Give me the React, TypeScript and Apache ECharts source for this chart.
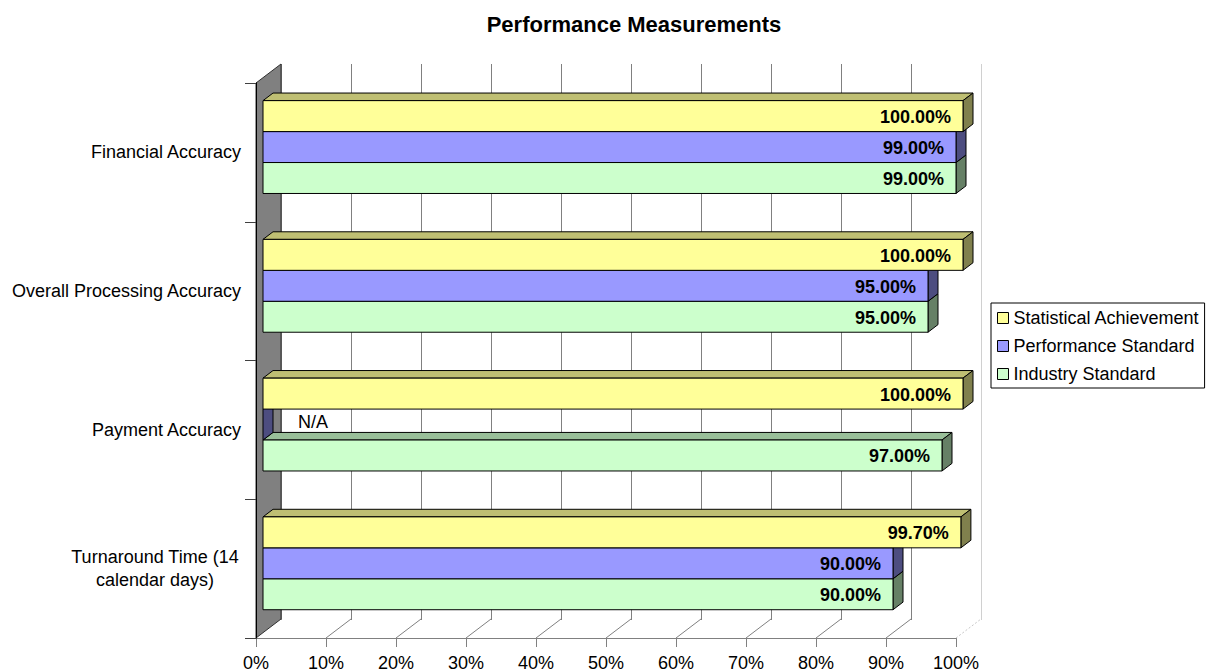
import React, { useEffect, useRef } from 'react';
import * as echarts from 'echarts';

// ---------- data ----------
const categories = [
  'Financial Accuracy',
  'Overall Processing Accuracy',
  'Payment Accuracy',
  'Turnaround Time (14\ncalendar days)',
];
const seriesNames = ['Statistical Achievement', 'Performance Standard', 'Industry Standard'];
const statisticalAchievement: (number | null)[] = [100, 100, 100, 99.7];
const performanceStandard: (number | null)[] = [99, 95, null, 90];
const industryStandard: (number | null)[] = [99, 95, 97, 90];
const naLabel = 'N/A';
const titleText = 'Performance Measurements';

// ---------- style / geometry ----------
const FONT = '"Liberation Sans", Arial, Helvetica, sans-serif';
const FRONT = { left: 256, top: 83, width: 700, height: 556 };
const DEPTH_X = 25; // full depth of the 3D box
const DEPTH_Y = -19;
const BAR_FRONT_FRAC = 0.28; // bar front face depth position
const BAR_DEPTH_FRAC = 0.4; // bar thickness in depth
const BAR_H_FRAC = 31 / 139; // bar height as share of band

const palette = {
  yellow: { front: '#FFFF99', top: '#BFBF73', side: '#80804D' },
  blue: { front: '#9999FF', top: '#7373BF', side: '#4D4D80' },
  green: { front: '#CCFFCC', top: '#99BF99', side: '#668066' },
};

function toData(arr: (number | null)[]) {
  return arr.map((v, i) => [v == null ? 0 : v, i, v == null ? 1 : 0]);
}

function makeBarRender(slot: number, col: { front: string; top: string; side: string }) {
  return (params: any, api: any) => {
    const val = api.value(0);
    const cat = api.value(1);
    const isNA = api.value(2) === 1;
    const base = api.coord([0, cat]);
    const end = api.coord([val, cat]);
    const band = api.size([0, 1])[1];
    const h = band * BAR_H_FRAC;
    const fx = DEPTH_X * BAR_FRONT_FRAC;
    const fy = DEPTH_Y * BAR_FRONT_FRAC;
    const bx = DEPTH_X * BAR_DEPTH_FRAC;
    const by = DEPTH_Y * BAR_DEPTH_FRAC;
    const x0 = base[0] + fx;
    const x1 = end[0] + fx;
    const yT = base[1] + fy + (slot - 0.5) * h;
    const yB = yT + h;
    const edge = { stroke: '#000', lineWidth: 1 };
    const children: any[] = [
      {
        type: 'polygon',
        shape: { points: [[x0, yT], [x0 + bx, yT + by], [x1 + bx, yT + by], [x1, yT]] },
        style: { fill: col.top, ...edge },
      },
      {
        type: 'polygon',
        shape: { points: [[x1, yT], [x1 + bx, yT + by], [x1 + bx, yB + by], [x1, yB]] },
        style: { fill: col.side, ...edge },
      },
    ];
    if (x1 - x0 > 0.5) {
      children.push({
        type: 'rect',
        shape: { x: x0, y: yT, width: x1 - x0, height: h },
        style: { fill: col.front, ...edge },
      });
    }
    if (isNA) {
      children.push({
        type: 'text',
        style: {
          text: naLabel,
          x: x1 + bx + 25,
          y: (yT + yB) / 2 - 3,
          fill: '#000',
          fontSize: 18,
          fontFamily: FONT,
          align: 'left',
          verticalAlign: 'middle',
          textAlign: 'left',
          textVerticalAlign: 'middle',
        },
      });
    } else {
      children.push({
        type: 'text',
        style: {
          text: val.toFixed(2) + '%',
          x: x1 - 12,
          y: (yT + yB) / 2 + 1,
          fill: '#000',
          fontSize: 18,
          fontWeight: 'bold',
          fontFamily: FONT,
          align: 'right',
          verticalAlign: 'middle',
          textAlign: 'right',
          textVerticalAlign: 'middle',
        },
      });
    }
    return { type: 'group', children };
  };
}

function wallRender(params: any, api: any) {
  const cs = params.coordSys;
  const x0 = cs.x;
  const yT = cs.y;
  const yB = cs.y + cs.height;
  const children: any[] = [
    {
      type: 'polygon',
      shape: { points: [[x0, yT], [x0 + DEPTH_X, yT + DEPTH_Y], [x0 + DEPTH_X, yB + DEPTH_Y], [x0, yB]] },
      style: { fill: '#808080', stroke: '#303030', lineWidth: 1 },
    },
  ];
  for (let v = 10; v <= 100; v += 10) {
    const p = api.coord([v, 0]);
    const last = v === 100;
    children.push({
      type: 'line',
      shape: { x1: p[0], y1: yB, x2: p[0] + DEPTH_X, y2: yB + DEPTH_Y },
      style: last
        ? { stroke: '#C8C8C8', lineWidth: 1, lineDash: [2, 2] }
        : { stroke: '#808080', lineWidth: 1 },
    });
  }
  return { type: 'group', children };
}

export default function App() {
  const ref = useRef<HTMLDivElement>(null);
  useEffect(() => {
    if (!ref.current) return;
    const chart = echarts.init(ref.current, undefined, { renderer: 'svg' });
    const splitColors = ['#808080', '#808080', '#808080', '#808080', '#808080', '#808080', '#808080', '#808080', '#808080', '#808080', '#D0D0D0'];
    chart.setOption({
      animation: false,
      backgroundColor: '#fff',
      textStyle: { fontFamily: FONT },
      graphic: [
        {
          type: 'text',
          x: 634,
          y: 24,
          style: {
            text: titleText,
            fill: '#000',
            fontSize: 22,
            fontWeight: 'bold',
            fontFamily: FONT,
            align: 'center',
            verticalAlign: 'middle',
            textAlign: 'center',
            textVerticalAlign: 'middle',
          },
        },
      ],
      legend: {
        orient: 'vertical',
        left: 991,
        top: 303,
        padding: [6, 5, 5, 6],
        itemGap: 10,
        itemWidth: 11,
        itemHeight: 11,
        icon: 'rect',
        selectedMode: false,
        borderColor: '#000',
        borderWidth: 1,
        backgroundColor: '#fff',
        textStyle: { fontSize: 18, color: '#000', fontFamily: FONT },
        data: [
          { name: seriesNames[0], itemStyle: { color: palette.yellow.front, borderColor: '#000', borderWidth: 1 } },
          { name: seriesNames[1], itemStyle: { color: palette.blue.front, borderColor: '#000', borderWidth: 1 } },
          { name: seriesNames[2], itemStyle: { color: palette.green.front, borderColor: '#000', borderWidth: 1 } },
        ],
      },
      grid: [
        { left: FRONT.left, top: FRONT.top, width: FRONT.width, height: FRONT.height, containLabel: false },
        {
          left: FRONT.left + DEPTH_X,
          top: FRONT.top + DEPTH_Y,
          width: FRONT.width,
          height: FRONT.height,
          containLabel: false,
        },
      ],
      xAxis: [
        {
          type: 'value',
          gridIndex: 0,
          min: 0,
          max: 100,
          interval: 10,
          axisLine: { show: true, lineStyle: { color: '#808080', width: 1 } },
          axisTick: { show: true, length: 9, lineStyle: { color: '#808080' } },
          axisLabel: { formatter: '{value}%', fontSize: 18, color: '#000', margin: 16, fontFamily: FONT },
          splitLine: { show: false },
        },
        {
          type: 'value',
          gridIndex: 1,
          min: 0,
          max: 100,
          interval: 10,
          axisLine: { show: false },
          axisTick: { show: false },
          axisLabel: { show: false },
          splitLine: { show: true, lineStyle: { color: splitColors, width: 1 } },
        },
      ],
      yAxis: [
        {
          type: 'category',
          gridIndex: 0,
          inverse: true,
          data: categories,
          z: 10,
          axisLine: { show: true, lineStyle: { color: '#000', width: 1 } },
          axisTick: { show: true, length: 11, lineStyle: { color: '#404040' } },
          splitLine: { show: false },
          axisLabel: {
            fontSize: 18,
            color: '#000',
            margin: 15,
            fontFamily: FONT,
            lineHeight: 23,
            formatter: (v: string) => {
              const lines = v.split('\n');
              if (lines.length === 1) return v;
              return lines.map((l) => '{c|' + l + '}').join('\n');
            },
            rich: {
              c: { width: 172, align: 'center', fontSize: 18, lineHeight: 23, fontFamily: FONT, color: '#000' },
            },
          },
        },
        {
          type: 'category',
          gridIndex: 1,
          inverse: true,
          data: categories,
          show: false,
        },
      ],
      series: [
        {
          type: 'custom',
          name: 'wall',
          xAxisIndex: 0,
          yAxisIndex: 0,
          z: 1,
          silent: true,
          renderItem: wallRender,
          data: [[0, 0]],
        },
        {
          type: 'custom',
          name: seriesNames[2],
          xAxisIndex: 0,
          yAxisIndex: 0,
          z: 2,
          itemStyle: { color: palette.green.front },
          renderItem: makeBarRender(1, palette.green),
          encode: { x: 0, y: 1 },
          data: toData(industryStandard),
        },
        {
          type: 'custom',
          name: seriesNames[1],
          xAxisIndex: 0,
          yAxisIndex: 0,
          z: 3,
          itemStyle: { color: palette.blue.front },
          renderItem: makeBarRender(0, palette.blue),
          encode: { x: 0, y: 1 },
          data: toData(performanceStandard),
        },
        {
          type: 'custom',
          name: seriesNames[0],
          xAxisIndex: 0,
          yAxisIndex: 0,
          z: 4,
          itemStyle: { color: palette.yellow.front },
          renderItem: makeBarRender(-1, palette.yellow),
          encode: { x: 0, y: 1 },
          data: toData(statisticalAchievement),
        },
      ],
    });
    return () => chart.dispose();
  }, []);
  return (
    <div
      ref={ref}
      style={{ position: 'fixed', left: 0, top: 0, width: 1213, height: 672, background: '#fff' }}
    />
  );
}
